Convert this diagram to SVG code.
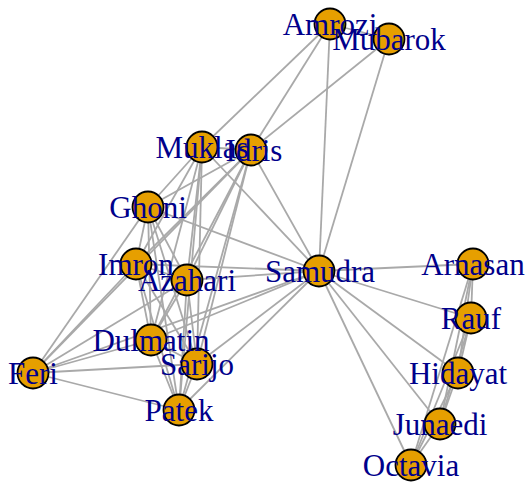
<svg xmlns="http://www.w3.org/2000/svg" width="530" height="483" viewBox="0 0 530 483">
<style>
.e line{stroke:#A9A9A9;stroke-width:1.8;fill:none}
.n circle{fill:#E69F00;stroke:#000;stroke-width:1.8}
.n text{font-family:"Liberation Serif","Times New Roman",serif;font-size:31px;fill:#00008B;text-anchor:middle}
</style>
<rect width="530" height="483" fill="#fff"/>
<g id="edges" class="e">
<line x1="202" y1="147" x2="136" y2="264"/>
<line x1="202" y1="147" x2="319" y2="271"/>
<line x1="202" y1="147" x2="151" y2="340"/>
<line x1="202" y1="147" x2="251" y2="150"/>
<line x1="202" y1="147" x2="187" y2="280"/>
<line x1="202" y1="147" x2="148" y2="207"/>
<line x1="202" y1="147" x2="179" y2="410"/>
<line x1="202" y1="147" x2="197" y2="364"/>
<line x1="136" y1="264" x2="319" y2="271"/>
<line x1="136" y1="264" x2="151" y2="340"/>
<line x1="136" y1="264" x2="251" y2="150"/>
<line x1="136" y1="264" x2="187" y2="280"/>
<line x1="136" y1="264" x2="148" y2="207"/>
<line x1="136" y1="264" x2="179" y2="410"/>
<line x1="136" y1="264" x2="33" y2="373"/>
<line x1="136" y1="264" x2="197" y2="364"/>
<line x1="319" y1="271" x2="151" y2="340"/>
<line x1="319" y1="271" x2="251" y2="150"/>
<line x1="319" y1="271" x2="187" y2="280"/>
<line x1="319" y1="271" x2="148" y2="207"/>
<line x1="319" y1="271" x2="179" y2="410"/>
<line x1="319" y1="271" x2="33" y2="373"/>
<line x1="319" y1="271" x2="197" y2="364"/>
<line x1="151" y1="340" x2="251" y2="150"/>
<line x1="151" y1="340" x2="187" y2="280"/>
<line x1="151" y1="340" x2="148" y2="207"/>
<line x1="151" y1="340" x2="179" y2="410"/>
<line x1="151" y1="340" x2="33" y2="373"/>
<line x1="151" y1="340" x2="197" y2="364"/>
<line x1="251" y1="150" x2="187" y2="280"/>
<line x1="251" y1="150" x2="148" y2="207"/>
<line x1="251" y1="150" x2="179" y2="410"/>
<line x1="251" y1="150" x2="33" y2="373"/>
<line x1="251" y1="150" x2="197" y2="364"/>
<line x1="187" y1="280" x2="148" y2="207"/>
<line x1="187" y1="280" x2="179" y2="410"/>
<line x1="187" y1="280" x2="33" y2="373"/>
<line x1="187" y1="280" x2="197" y2="364"/>
<line x1="148" y1="207" x2="179" y2="410"/>
<line x1="148" y1="207" x2="33" y2="373"/>
<line x1="148" y1="207" x2="197" y2="364"/>
<line x1="179" y1="410" x2="33" y2="373"/>
<line x1="179" y1="410" x2="197" y2="364"/>
<line x1="33" y1="373" x2="197" y2="364"/>
<line x1="330" y1="24" x2="202" y2="147"/>
<line x1="330" y1="24" x2="251" y2="150"/>
<line x1="330" y1="24" x2="319" y2="271"/>
<line x1="330" y1="24" x2="389" y2="39"/>
<line x1="389" y1="39" x2="251" y2="150"/>
<line x1="389" y1="39" x2="319" y2="271"/>
<line x1="319" y1="271" x2="473" y2="264"/>
<line x1="319" y1="271" x2="471" y2="318"/>
<line x1="319" y1="271" x2="458" y2="373"/>
<line x1="319" y1="271" x2="440" y2="424"/>
<line x1="319" y1="271" x2="411" y2="465"/>
<line x1="473" y1="264" x2="471" y2="318"/>
<line x1="473" y1="264" x2="458" y2="373"/>
<line x1="473" y1="264" x2="440" y2="424"/>
<line x1="473" y1="264" x2="411" y2="465"/>
<line x1="471" y1="318" x2="458" y2="373"/>
<line x1="471" y1="318" x2="440" y2="424"/>
<line x1="471" y1="318" x2="411" y2="465"/>
<line x1="458" y1="373" x2="440" y2="424"/>
<line x1="458" y1="373" x2="411" y2="465"/>
<line x1="440" y1="424" x2="411" y2="465"/>
</g>
<g class="n">
<g id="Muklas"><circle cx="202" cy="147" r="15.5"/></g>
<g id="Amrozi"><circle cx="330" cy="24" r="15.5"/></g>
<g id="Imron"><circle cx="136" cy="264" r="15.5"/></g>
<g id="Samudra"><circle cx="319" cy="271" r="15.5"/></g>
<g id="Dulmatin"><circle cx="151" cy="340" r="15.5"/></g>
<g id="Idris"><circle cx="251" cy="150" r="15.5"/></g>
<g id="Mubarok"><circle cx="389" cy="39" r="15.5"/></g>
<g id="Azahari"><circle cx="187" cy="280" r="15.5"/></g>
<g id="Ghoni"><circle cx="148" cy="207" r="15.5"/></g>
<g id="Arnasan"><circle cx="473" cy="264" r="15.5"/></g>
<g id="Rauf"><circle cx="471" cy="318" r="15.5"/></g>
<g id="Octavia"><circle cx="411" cy="465" r="15.5"/></g>
<g id="Hidayat"><circle cx="458" cy="373" r="15.5"/></g>
<g id="Junaedi"><circle cx="440" cy="424" r="15.5"/></g>
<g id="Patek"><circle cx="179" cy="410" r="15.5"/></g>
<g id="Feri"><circle cx="33" cy="373" r="15.5"/></g>
<g id="Sarijo"><circle cx="197" cy="364" r="15.5"/></g>
<g id="labels">
<text x="202" y="158">Muklas</text>
<text x="330" y="35">Amrozi</text>
<text x="136" y="275">Imron</text>
<text x="320" y="282">Samudra</text>
<text x="151" y="351">Dulmatin</text>
<text x="254" y="161">Idris</text>
<text x="389" y="50">Mubarok</text>
<text x="187" y="291">Azahari</text>
<text x="148" y="218">Ghoni</text>
<text x="473" y="275">Arnasan</text>
<text x="471" y="329">Rauf</text>
<text x="411" y="476">Octavia</text>
<text x="458" y="384">Hidayat</text>
<text x="440" y="435">Junaedi</text>
<text x="179" y="421">Patek</text>
<text x="33" y="384">Feri</text>
<text x="197" y="375">Sarijo</text>
</g>
</g>
</svg>
